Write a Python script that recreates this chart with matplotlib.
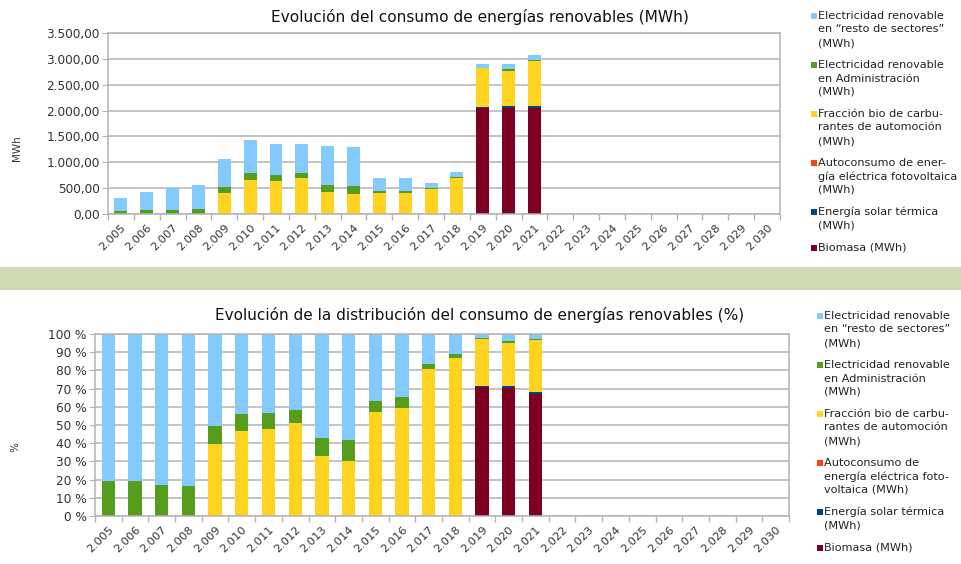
import matplotlib
matplotlib.use("Agg")
import matplotlib.pyplot as plt
import numpy as np
from matplotlib.patches import Rectangle
from matplotlib.ticker import FuncFormatter, FixedLocator

plt.rcParams['font.family'] = ['DejaVu Sans']

years = [str(y) for y in range(2005, 2031)]
year_labels = ["2.%03d" % (int(y) - 2000) for y in years]

# MWh values per series (2005..2021; later years empty)
biomasa     = [0, 0, 0, 0, 0, 0, 0, 0, 0, 0, 0, 0, 0, 0, 2050, 2050, 2050]
solar       = [0, 0, 0, 0, 0, 0, 0, 0, 0, 0, 0, 0, 0, 0, 25, 30, 35]
autoconsumo = [0, 0, 0, 0, 0, 0, 0, 0, 0, 0, 0, 0, 0, 0, 0, 0, 0]
fraccion    = [0, 0, 0, 0, 415, 665, 645, 695, 430, 392, 400, 410, 492, 705, 745, 690, 880]
elec_admin  = [60, 82, 86, 94, 105, 135, 115, 100, 135, 148, 42, 40, 16, 15, 10, 25, 15]
elec_resto  = [250, 350, 420, 476, 535, 630, 586, 565, 745, 755, 258, 240, 100, 90, 65, 115, 90]

series = [biomasa, solar, autoconsumo, fraccion, elec_admin, elec_resto]
colors = ['#7e0021', '#004586', '#ff420e', '#ffd320', '#579d1c', '#83caff']

legend_top = [
    ["Electricidad renovable", "en \u201cresto de sectores\u201d", "(MWh)"],
    ["Electricidad renovable", "en Administración", "(MWh)"],
    ["Fracción bio de carbu-", "rantes de automoción", "(MWh)"],
    ["Autoconsumo de ener-", "gía eléctrica fotovoltaica", "(MWh)"],
    ["Energía solar térmica", "(MWh)"],
    ["Biomasa (MWh)"],
]
legend_bot = [
    ["Electricidad renovable", "en \u201cresto de sectores\u201d", "(MWh)"],
    ["Electricidad renovable", "en Administración", "(MWh)"],
    ["Fracción bio de carbu-", "rantes de automoción", "(MWh)"],
    ["Autoconsumo de", "energía eléctrica foto-", "voltaica (MWh)"],
    ["Energía solar térmica", "(MWh)"],
    ["Biomasa (MWh)"],
]
legend_colors = ['#83caff', '#579d1c', '#ffd320', '#ff420e', '#004586', '#7e0021']

W, H = 962, 564
fig = plt.figure(figsize=(W / 100, H / 100), dpi=100)
fig.patch.set_facecolor('white')

def fx(px):
    return px / W

def fy(py):
    return 1 - py / H

# green separator band
fig.patches.append(Rectangle((0, fy(290)), 1, (290 - 267) / H, transform=fig.transFigure,
                             facecolor='#cddab3', edgecolor='none', zorder=0))

n = len(years)
ndata = len(biomasa)
x = np.arange(ndata)
data = np.array(series, dtype=float)
totals = data.sum(axis=0)
pct = data / totals * 100

grid_c = '#b3b3b3'
txt_c = '#333333'

def style_axes(ax):
    ax.set_xlim(-0.5, n - 0.5)
    ax.set_xticks(np.arange(n))
    ax.set_xticklabels(year_labels, rotation=45, ha='right', rotation_mode='anchor',
                       fontsize=8.2, color=txt_c)
    ax.tick_params(axis='x', which='major', length=0, pad=6)
    ax.xaxis.set_minor_locator(FixedLocator(np.arange(-0.5, n, 1.0)))
    ax.tick_params(axis='x', which='minor', length=4, color=grid_c, width=1)
    ax.tick_params(axis='y', length=4, color=grid_c, labelsize=8.7, labelcolor=txt_c, pad=2)
    ax.yaxis.grid(True, color=grid_c, linewidth=1.1)
    ax.set_axisbelow(True)
    for s in ax.spines.values():
        s.set_color(grid_c)
        s.set_linewidth(1.1)

# top chart
ax1 = fig.add_axes([fx(108), fy(214), fx(780) - fx(108), fy(33) - fy(214)])
bottom = np.zeros(ndata)
for vals, c in zip(data, colors):
    ax1.bar(x, vals, 0.5, bottom=bottom, color=c, linewidth=0)
    bottom += vals
ax1.set_ylim(0, 3500)
ax1.set_yticks(np.arange(0, 3501, 500))
ax1.yaxis.set_major_formatter(FuncFormatter(
    lambda v, p: ("{:,.2f}".format(v)).replace(',', 'X').replace('.', ',').replace('X', '.')))
style_axes(ax1)
fig.text(fx(480), fy(17), "Evolución del consumo de energías renovables (MWh)",
         ha='center', va='center', fontsize=11.1, color='#111111')
fig.text(fx(17), fy(148), "MWh", rotation=90, ha='center', va='center', fontsize=7.5, color=txt_c)

# bottom chart
ax2 = fig.add_axes([fx(95), fy(516), fx(789) - fx(95), fy(334) - fy(516)])
bottom = np.zeros(ndata)
for vals, c in zip(pct, colors):
    ax2.bar(x, vals, 0.5, bottom=bottom, color=c, linewidth=0)
    bottom += vals
ax2.set_ylim(0, 100)
ax2.set_yticks(np.arange(0, 101, 10))
ax2.yaxis.set_major_formatter(FuncFormatter(lambda v, p: "%d %%" % v))
style_axes(ax2)
fig.text(fx(480), fy(315), "Evolución de la distribución del consumo de energías renovables (%)",
         ha='center', va='center', fontsize=11.0, color='#111111')
fig.text(fx(15), fy(447), "%", rotation=90, ha='center', va='center', fontsize=7.5, color=txt_c)

# legends (manual, handle aligned with first line)
def draw_legend(entries, x_handle, x_text, y_start):
    y = y_start
    for lines, c in zip(entries, legend_colors):
        fig.patches.append(Rectangle((fx(x_handle), fy(y + 3)), 6 / W, 6 / H,
                                     transform=fig.transFigure, facecolor=c, edgecolor='none'))
        for i, line in enumerate(lines):
            fig.text(fx(x_text), fy(y + i * 13.5), line, ha='left', va='center',
                     fontsize=8.1, color='#222222')
        y += len(lines) * 13.5 + 8.5

draw_legend(legend_top, 811, 818, 16)
draw_legend(legend_bot, 817, 824, 316)

fig.savefig("out.png", dpi=100, facecolor='white')
